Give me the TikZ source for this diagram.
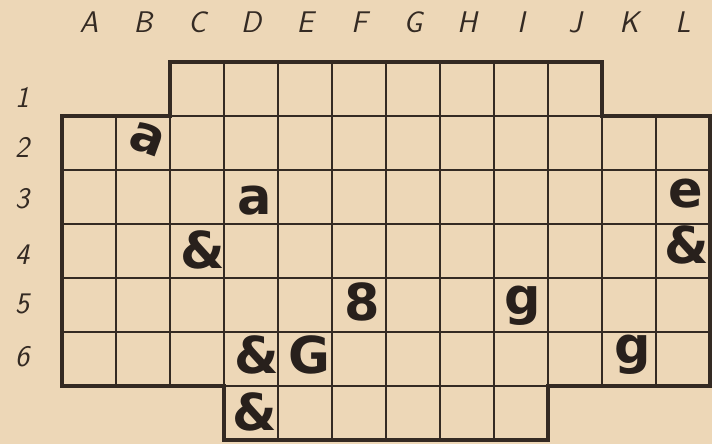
\documentclass[tikz,border=0pt]{standalone}
\usepackage{fontspec}
\newfontfamily\blobfont{DejaVu Sans}
\definecolor{paper}{RGB}{237, 215, 183}
\definecolor{ink}{RGB}{52, 42, 35}
\definecolor{blot}{RGB}{40, 32, 28}
\tikzset{
    gridline/.style={draw=ink, line width=1pt},
    border/.style={draw=ink, line width=2.8pt, line join=miter},
    collbl/.style={text=ink, font=\fontsize{17}{20}\selectfont\sffamily\itshape},
    rowlbl/.style={text=ink, font=\fontsize{17}{20}\selectfont\sffamily\itshape},
    piece/.style={text=blot, inner sep=0pt, font=\fontsize{29}{32}\selectfont\blobfont\bfseries},
}
\begin{document}
\begin{tikzpicture}[x=1.08cm, y=1.08cm]

    \fill[paper] (-1.148, -0.074) rectangle (12.037, 8.148);
    \useasboundingbox (-1.148, -0.074) rectangle (12.037, 8.148);

    % board
    \begin{scope}
        \clip (2,7) -- (10,7) -- (10,6) -- (12,6) -- (12,1) -- (9,1) -- (9,0)
              -- (3,0) -- (3,1) -- (0,1) -- (0,6) -- (2,6) -- cycle;
        \draw[gridline] (0,0) grid[step=1] (12,7);
    \end{scope}
    \draw[border] (2,7) -- (10,7) -- (10,6) -- (12,6) -- (12,1) -- (9,1) -- (9,0)
          -- (3,0) -- (3,1) -- (0,1) -- (0,6) -- (2,6) -- cycle;

    \node[collbl] (colA) at (0.5, 7.74) {A};
    \node[collbl] (colB) at (1.5, 7.74) {B};
    \node[collbl] (colC) at (2.5, 7.74) {C};
    \node[collbl] (colD) at (3.5, 7.74) {D};
    \node[collbl] (colE) at (4.5, 7.74) {E};
    \node[collbl] (colF) at (5.5, 7.74) {F};
    \node[collbl] (colG) at (6.5, 7.74) {G};
    \node[collbl] (colH) at (7.5, 7.74) {H};
    \node[collbl] (colI) at (8.5, 7.74) {I};
    \node[collbl] (colJ) at (9.5, 7.74) {J};
    \node[collbl] (colK) at (10.5, 7.74) {K};
    \node[collbl] (colL) at (11.5, 7.74) {L};

    \node[rowlbl] (row1) at (-0.74, 6.34) {1};
    \node[rowlbl] (row2) at (-0.74, 5.41) {2};
    \node[rowlbl] (row3) at (-0.74, 4.46) {3};
    \node[rowlbl] (row4) at (-0.74, 3.43) {4};
    \node[rowlbl] (row5) at (-0.74, 2.52) {5};
    \node[rowlbl] (row6) at (-0.74, 1.54) {6};

    % ink blots
    \node[piece, rotate=-20] (b2) at (1.59, 5.56) {a};
    \node[piece] (d3) at (3.57, 4.44) {a};
    \node[piece] (c4) at (2.61, 3.52) {\&};
    \node[piece] (f5) at (5.56, 2.56) {8};
    \node[piece] (i5) at (8.54, 2.48) {g};
    \node[piece] (l3) at (11.56, 4.57) {e};
    \node[piece] (l4) at (11.56, 3.61) {\&};
    \node[piece] (k6) at (10.56, 1.58) {g};
    \node[piece] (d6) at (3.61, 1.58) {\&};
    \node[piece] (e6) at (4.59, 1.57) {G};
    \node[piece] (d7) at (3.56, 0.52) {\&};

\end{tikzpicture}
\end{document}
